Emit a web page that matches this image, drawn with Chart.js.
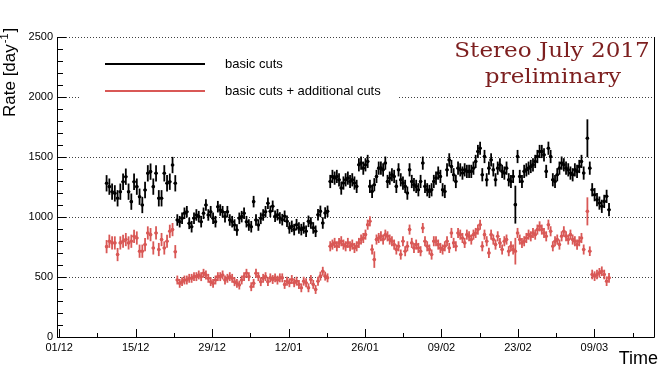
<!DOCTYPE html>
<html><head><meta charset="utf-8">
<script src="https://cdn.jsdelivr.net/npm/chart.js@4/dist/chart.umd.min.js"></script>
<style>html,body{margin:0;padding:0;background:#fff}#c{display:block}</style>
</head><body>
<canvas id="c" width="664" height="367"></canvas>
<script>
// ---- axis data (time in days since 01/12) ----
const tickDays = [0, 14, 28, 42, 56, 70, 84, 98];
const tickLabels = ["01/12", "15/12", "29/12", "12/01", "26/01", "09/02", "23/02", "09/03"];
const minorTickDays = [7, 21, 35, 49, 63, 77, 91, 105];
const yTickValues = [0, 500, 1000, 1500, 2000, 2500];

// ---- time span of each data-taking segment (days since 01/12) ----
const segStart = [8.68, 21.63, 49.63, 96.72];
const segEnd   = [21.26, 49.14, 96.04, 100.68];

// ---- "basic cuts" rates [day^-1] ----
const basicA = [1281,1253,1211,1197,1156,1211,1294,1336,1211,1128,1294,1253,1169,1100,1225,1364,1378,1253,1364,1156,1156,1364,1281,1294,1433,1281];
const basicB = [975,961,989,1031,1044,947,919,989,1017,1003,961,1031,1100,1017,1044,989,961,1086,1058,1044,1003,1044,975,961,933,892,989,1003,1031,961,933,919,1128,975,933,989,1017,1044,1114,
  1047,1089,1006,1019,992,978,1006,964,909,922,895,936,909,895,909,881,964,950,909,881,1019,1047,950,1033,1047];
const basicC = [1296,1338,1324,1338,1310,1241,1283,1310,1324,1296,1310,1283,1255,1435,1449,1407,1435,1463,1255,1213,1269,1338,1407,1407,1393,1449,1296,1324,1352,1338,1255,1393,1310,1283,1255,1199,1393,1296,1269,1255,1227,1296,1449,1255,1227,1213,1227,1296,1324,1366,1338,1227,
  1213,1393,1476,1421,1352,1296,1407,1393,1366,1393,1380,1380,1380,1407,1463,1546,1573,1352,1504,1310,1407,1476,1393,1310,1407,1435,1380,1366,1407,1310,1296,1338,1103,1504,1338,1296,1380,1393,1407,1421,1435,1463,1504,1546,1546,1518,1380,1573,1504,1310,1296,1352,1407,1449,1435,1407,1393,1366,1352,1393,1380,1421,1463,1366];
const basicD = [1656,1407,1227,1186,1144,1116,1089,1130,1172,1061];

// ---- "basic cuts + additional cuts" rates [day^-1] ----
const addA = [753,798,784,784,687,784,798,812,784,798,839,825,715,715,770,867,853,742,867,729,812,742,798,881,895,711];
const addB = [475,447,461,475,475,489,489,503,503,517,503,531,517,489,461,447,475,503,503,517,475,489,503,489,461,447,433,475,503,531,503,419,447,531,503,461,489,503,461,
  493,479,493,474,493,493,438,465,452,479,452,465,438,410,465,452,410,479,438,396,465,507,548,507,493];
const addC = [756,770,784,756,784,798,770,756,784,756,770,742,756,784,812,825,853,936,964,729,645,812,825,839,812,853,839,812,798,770,729,756,687,798,715,756,895,784,742,770,742,715,908,798,756,729,687,798,798,770,742,729,
  756,798,742,867,784,756,867,853,825,784,853,839,812,853,867,895,936,756,853,798,701,853,812,770,839,784,729,798,812,715,756,729,715,867,812,784,798,825,853,839,867,853,895,922,895,867,839,936,881,756,798,812,770,839,881,839,812,853,812,798,770,798,825,729];
const addD = [1047,715,521,507,521,535,548,521,465,493];

// ---- statistical errors [day^-1]: typical per segment, and larger ones [segment, index, error] ----
const basicErr = [68, 48, 55, 55];
const addErr   = [55, 37, 42, 40];
const basicErrLarge = [[2, 84, 158], [3, 0, 158]];
const addErrLarge   = [[2, 20, 69], [2, 84, 111], [3, 0, 117]];

const BLACK = '#000000';
const RED = 'rgb(217,88,86)';

function buildSeries(segVals, segErr, large) {
  const pts = [];
  segVals.forEach((vals, s) => {
    const step = (segEnd[s] - segStart[s]) / (vals.length - 1);
    vals.forEach((v, i) => {
      let e = segErr[s];
      large.forEach(o => { if (o[0] === s && o[1] === i) e = o[2]; });
      pts.push({ x: segStart[s] + i * step, y: v, err: e, hw: step / 2 });
    });
  });
  return pts;
}

const basicPts = buildSeries([basicA, basicB, basicC, basicD], basicErr, basicErrLarge);
const addPts = buildSeries([addA, addB, addC, addD], addErr, addErrLarge);

const FONT = '"Liberation Sans", Arial, Helvetica, sans-serif';

const rootStyle = {
  id: 'rootStyle',
  beforeDatasetsDraw(chart) {
    const ctx = chart.ctx, a = chart.chartArea, xs = chart.scales.x, ys = chart.scales.y;
    ctx.save();
    // dotted horizontal grid
    ctx.strokeStyle = 'rgba(0,0,0,0.75)';
    ctx.lineWidth = 1;
    ctx.setLineDash([1, 2]);
    yTickValues.forEach(v => {
      if (v === 0) return;
      const y = Math.round(ys.getPixelForValue(v)) + 0.5;
      ctx.beginPath(); ctx.moveTo(a.left, y); ctx.lineTo(a.right, y); ctx.stroke();
    });
    ctx.setLineDash([]);
    // error bars
    chart.data.datasets.forEach(ds => {
      ctx.strokeStyle = ds.pointBackgroundColor;
      ctx.lineWidth = 1.8;
      ds.data.forEach(p => {
        const px = xs.getPixelForValue(p.x);
        const py = ys.getPixelForValue(p.y);
        const y1 = ys.getPixelForValue(p.y - p.err), y2 = ys.getPixelForValue(p.y + p.err);
        const hwPx = Math.max(1.6, xs.getPixelForValue(p.x + p.hw) - px);
        ctx.beginPath();
        ctx.moveTo(px, y1); ctx.lineTo(px, y2);
        ctx.stroke();
        ctx.lineWidth = 1.4;
        ctx.beginPath();
        ctx.moveTo(px - hwPx, py); ctx.lineTo(px + hwPx, py);
        ctx.stroke();
        ctx.lineWidth = 1.8;
      });
    });
    ctx.restore();
  },
  afterDatasetsDraw(chart) {
    const ctx = chart.ctx, a = chart.chartArea, xs = chart.scales.x, ys = chart.scales.y;
    ctx.save();
    // frame
    ctx.strokeStyle = '#000'; ctx.lineWidth = 1;
    ctx.beginPath();
    ctx.moveTo(a.left + 0.5, a.top); ctx.lineTo(a.left + 0.5, a.bottom + 0.5);
    ctx.lineTo(a.right - 0.5, a.bottom + 0.5); ctx.lineTo(a.right - 0.5, a.top);
    ctx.stroke();
    // y ticks (inside)
    ctx.beginPath();
    for (let v = 0; v <= 2500; v += 100) {
      const y = Math.round(ys.getPixelForValue(v)) + 0.5;
      const len = (v % 500 === 0) ? 9 : 6;
      ctx.moveTo(a.left, y); ctx.lineTo(a.left + len, y);
    }
    // x ticks (inside)
    tickDays.forEach(d => {
      const x = Math.round(xs.getPixelForValue(d)) + 0.5;
      ctx.moveTo(x, a.bottom); ctx.lineTo(x, a.bottom - 8);
    });
    minorTickDays.forEach(d => {
      if (d > xs.max) return;
      const x = Math.round(xs.getPixelForValue(d)) + 0.5;
      ctx.moveTo(x, a.bottom); ctx.lineTo(x, a.bottom - 4);
    });
    ctx.stroke();

    // legend box
    ctx.fillStyle = '#fff';
    ctx.fillRect(81, 44, 318, 62);
    ctx.lineWidth = 2;
    ctx.strokeStyle = BLACK;
    ctx.beginPath(); ctx.moveTo(105, 64); ctx.lineTo(205, 64); ctx.stroke();
    ctx.strokeStyle = RED;
    ctx.beginPath(); ctx.moveTo(105, 91); ctx.lineTo(205, 91); ctx.stroke();
    ctx.fillStyle = '#000';
    ctx.font = '13px ' + FONT;
    ctx.textAlign = 'left'; ctx.textBaseline = 'middle';
    ctx.fillText('basic cuts', 225, 64);
    ctx.fillText('basic cuts + additional cuts', 225, 91);

    // header text
    ctx.fillStyle = '#7d1f1f';
    ctx.font = '21px "DejaVu Serif", serif';
    ctx.textAlign = 'center'; ctx.textBaseline = 'alphabetic';
    ctx.save(); ctx.translate(552, 57); ctx.scale(1.1, 1); ctx.fillText('Stereo July 2017', 0, 0); ctx.restore();
    ctx.save(); ctx.translate(553, 83); ctx.scale(1.1, 1); ctx.fillText('preliminary', 0, 0); ctx.restore();

    // axis titles
    ctx.fillStyle = '#000';
    ctx.textAlign = 'right'; ctx.textBaseline = 'alphabetic';
    ctx.font = '18px ' + FONT;
    ctx.fillText('Time', 658, 364);

    ctx.save();
    ctx.translate(15, 117);
    ctx.rotate(-Math.PI / 2);
    ctx.textAlign = 'left';
    ctx.font = '17px ' + FONT;
    const t1 = 'Rate [day';
    ctx.fillText(t1, 0, 0);
    let w = ctx.measureText(t1).width;
    ctx.font = '11px ' + FONT;
    ctx.fillText('-1', w + 1, -7);
    w += 1 + ctx.measureText('-1').width + 1;
    ctx.font = '17px ' + FONT;
    ctx.fillText(']', w, 0);
    ctx.restore();

    ctx.restore();
  }
};

new Chart(document.getElementById('c'), {
  type: 'scatter',
  data: {
    datasets: [
      { label: 'basic cuts', data: basicPts, pointRadius: 1.8, pointBorderWidth: 0,
        pointBackgroundColor: BLACK, pointBorderColor: BLACK, showLine: false },
      { label: 'basic cuts + additional cuts', data: addPts, pointRadius: 1.8, pointBorderWidth: 0,
        pointBackgroundColor: RED, pointBorderColor: RED, showLine: false }
    ]
  },
  options: {
    responsive: false,
    animation: false,
    devicePixelRatio: 1,
    layout: { padding: { top: 37, right: 9, left: 0, bottom: 0 } },
    plugins: { legend: { display: false }, tooltip: { enabled: false } },
    scales: {
      x: {
        type: 'linear', min: -0.4, max: 109.1,
        grid: { display: false, drawTicks: false },
        border: { display: false },
        afterBuildTicks: s => { s.ticks = tickDays.map(v => ({ value: v })); },
        afterFit: s => { s.height = 30; },
        ticks: {
          autoSkip: false, maxRotation: 0, padding: 4, color: '#000',
          font: { family: FONT, size: 11 },
          callback: v => tickLabels[tickDays.indexOf(v)]
        }
      },
      y: {
        min: 0, max: 2500,
        grid: { display: false, drawTicks: false },
        border: { display: false },
        afterBuildTicks: s => { s.ticks = yTickValues.map(v => ({ value: v })); },
        afterFit: s => { s.width = 57; },
        ticks: { padding: 4, color: '#000', font: { family: FONT, size: 11 },
          callback: v => String(v) }
      }
    }
  },
  plugins: [rootStyle]
});
</script>
</body></html>
